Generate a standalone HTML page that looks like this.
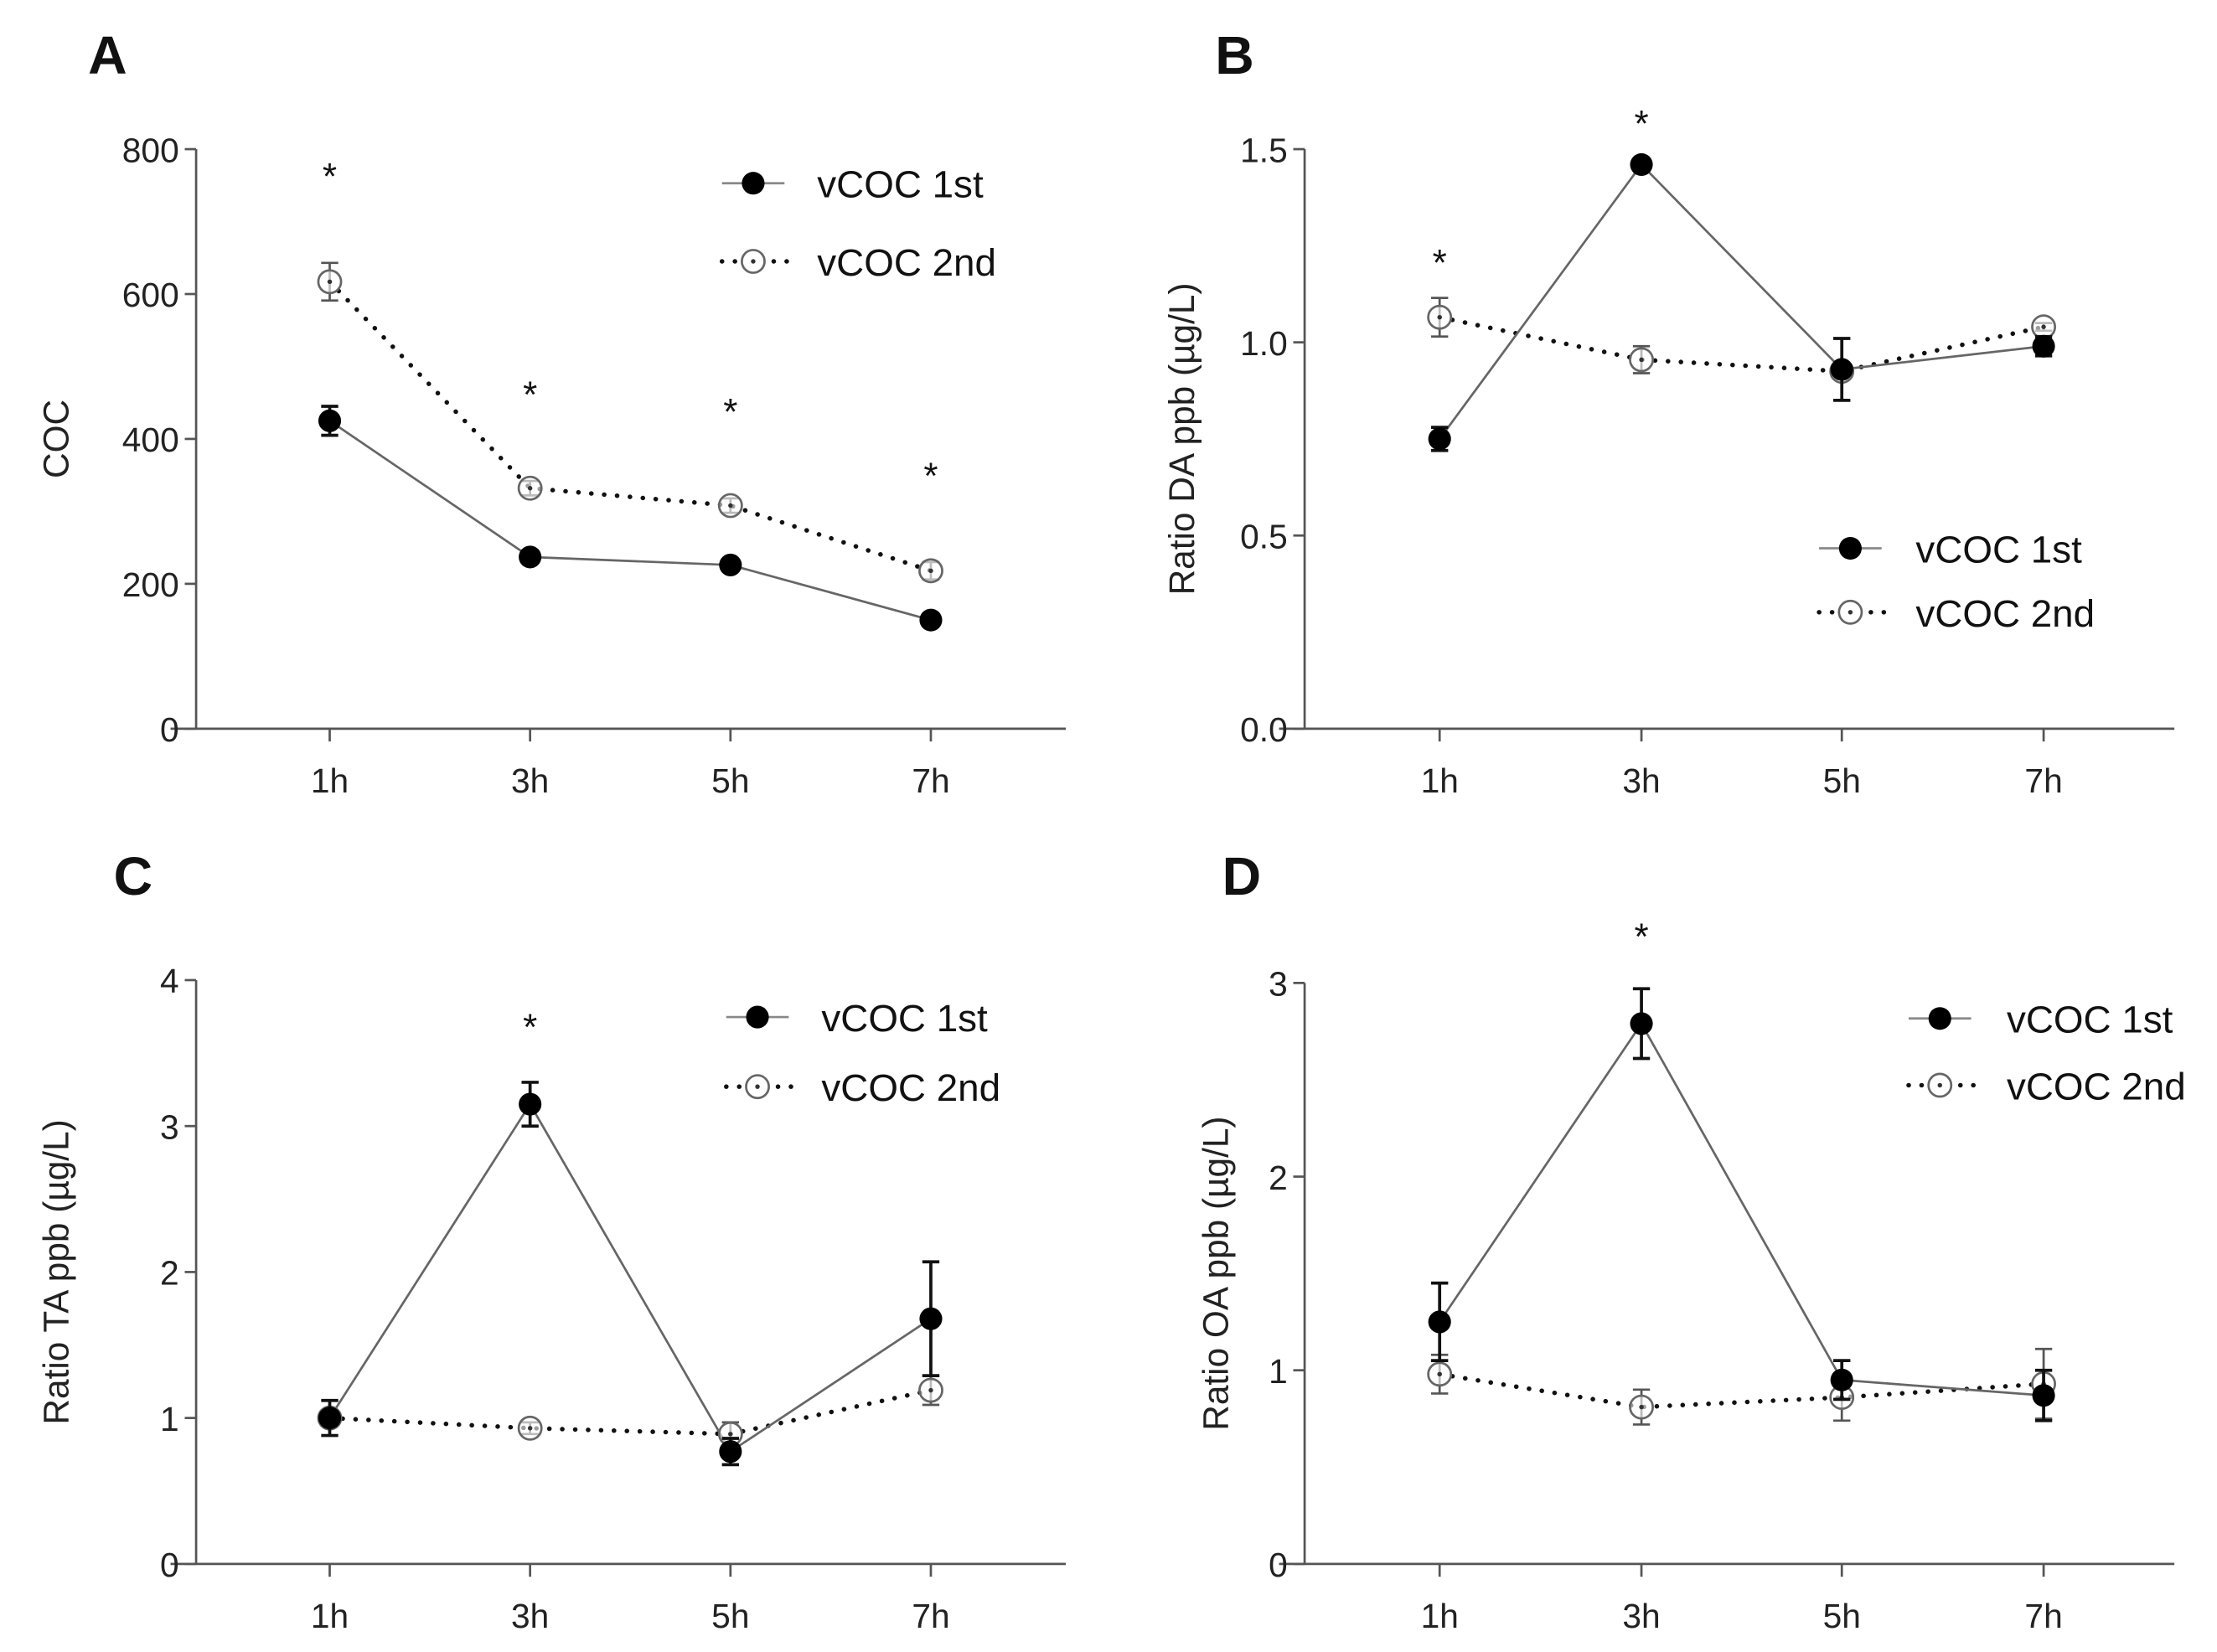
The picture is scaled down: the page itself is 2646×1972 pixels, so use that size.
<!DOCTYPE html>
<html><head><meta charset="utf-8"><style>
html,body{margin:0;padding:0;background:#fff;}
svg{display:block;}
text{font-family:"Liberation Sans",Arial,sans-serif;}
</style></head>
<body>
<svg id="fig" width="2646" height="1972" viewBox="0 0 1560 1163" preserveAspectRatio="none" xmlns="http://www.w3.org/2000/svg"></svg>
<script>
const categories = ["1h","3h","5h","7h"];
const aFirst = [425, 237, 226, 150];
const aFirstErr = [20, 6, 6, 6];
const aSecond = [617, 332, 308, 218];
const aSecondErr = [26, 10, 10, 12];
const aTicks = [0, 200, 400, 600, 800];
const aStars = [true, true, true, true];

const bFirst = [0.75, 1.46, 0.93, 0.99];
const bFirstErr = [0.03, 0.015, 0.08, 0.025];
const bSecond = [1.065, 0.955, 0.925, 1.04];
const bSecondErr = [0.05, 0.035, 0.02, 0.01];
const bTicks = [0, 0.5, 1.0, 1.5];
const bStars = [true, true, false, false];

const cFirst = [1.0, 3.15, 0.77, 1.68];
const cFirstErr = [0.12, 0.15, 0.09, 0.39];
const cSecond = [1.0, 0.93, 0.89, 1.19];
const cSecondErr = [0.04, 0.04, 0.08, 0.1];
const cTicks = [0, 1, 2, 3, 4];
const cStars = [false, true, false, false];

const dFirst = [1.25, 2.79, 0.95, 0.87];
const dFirstErr = [0.2, 0.18, 0.1, 0.13];
const dSecond = [0.98, 0.81, 0.86, 0.93];
const dSecondErr = [0.1, 0.09, 0.12, 0.18];
const dTicks = [0, 1, 2, 3];
const dStars = [false, true, false, false];

const NS = "http://www.w3.org/2000/svg";
const svg = document.getElementById("fig");
function mk(tag, attrs, parent, txt){
  const e = document.createElementNS(NS, tag);
  for (const k in attrs) e.setAttribute(k, attrs[k]);
  if (txt !== undefined) e.textContent = txt;
  (parent || svg).appendChild(e);
  return e;
}

function panel(cfg){
  const g = mk("g", {});
  
  
  const {ax, x0, x1, y0, y1, ymax} = cfg;
  const xs = cfg.xs;
  const yS = v => y0 - (v / ymax) * (y0 - y1);
  const xS = i => xs[i];
  const axc = "#555";
  const pl = mk("text", {x: cfg.lx, y: cfg.ly, "font-size": 38, "font-weight": "bold", fill: "#111"}, g, cfg.letter);
  
  
  const ya = mk("line", {x1: ax, y1: y0, x2: ax, y2: y1, stroke: axc, "stroke-width": 1.6}, g);
  
  
  const xa = mk("line", {x1: x0, y1: y0, x2: x1, y2: y0, stroke: axc, "stroke-width": 1.6}, g);
  
  
  cfg.ticks.forEach(t => {
    const y = yS(t);
    mk("line", {x1: ax - 8, y1: y, x2: ax, y2: y, stroke: axc, "stroke-width": 1.6}, g);
    const tl = mk("text", {x: ax - 12, y: y + 9, "font-size": 24, "text-anchor": "end", fill: "#222"}, g, cfg.fmt(t));
    
    
  });
  categories.forEach((c, i) => {
    mk("line", {x1: xS(i), y1: y0, x2: xS(i), y2: y0 + 9, stroke: axc, "stroke-width": 1.6}, g);
    const tl = mk("text", {x: xS(i), y: y0 + 45, "font-size": 24, "text-anchor": "middle", fill: "#222"}, g, c);
    
    
  });
  const yt = mk("text", {x: 0, y: 0, "font-size": 25, "text-anchor": "middle", fill: "#222",
    transform: `translate(${cfg.ytx},${(y0 + y1) / 2}) rotate(-90)`}, g, cfg.ytitle);
  
  

  const p2 = cfg.s2.map((v, i) => `${xS(i)},${yS(v)}`).join(" ");
  const l2 = mk("polyline", {points: p2, fill: "none", stroke: "#111", "stroke-width": 3.2, "stroke-dasharray": "0.1 9", "stroke-linecap": "round"}, g);
  
  
  const p1 = cfg.s1.map((v, i) => `${xS(i)},${yS(v)}`).join(" ");
  const l1 = mk("polyline", {points: p1, fill: "none", stroke: "#666", "stroke-width": 1.6}, g);
  
  

  function errbar(i, v, e, col, w){
    const x = xS(i);
    const a = mk("path", {d: `M${x},${yS(v - e)}V${yS(v + e)}M${x - 6},${yS(v - e)}h12M${x - 6},${yS(v + e)}h12`, stroke: col, "stroke-width": w, fill: "none"}, g);
    
    
  }
  cfg.s2.forEach((v, i) => {
    errbar(i, v, cfg.e2[i], "#555", 1.6);
    const c = mk("circle", {cx: xS(i), cy: yS(v), r: 8, fill: "#fff", "fill-opacity": 0.6, stroke: "#666", "stroke-width": 1.6}, g);
    
    
    mk("circle", {cx: xS(i), cy: yS(v), r: 1.6, fill: "#333"}, g);
  });
  cfg.s1.forEach((v, i) => {
    errbar(i, v, cfg.e1[i], "#111", 2.2);
    const c = mk("circle", {cx: xS(i), cy: yS(v), r: 8, fill: "#000"}, g);
    
    
  });
  cfg.stars.forEach((s, i) => {
    if (!s) return;
    const top = Math.max(cfg.s1[i] + cfg.e1[i], cfg.s2[i] + cfg.e2[i]);
    const st = mk("text", {x: xS(i), y: yS(top) - cfg.starGap, "font-size": 26, "text-anchor": "middle", fill: "#111"}, g, "*");
    
    
  });
  const lg = mk("g", {}, g);
  
  
  const [mx, my1, my2, tx] = cfg.leg;
  mk("line", {x1: mx - 22, y1: my1, x2: mx + 22, y2: my1, stroke: "#888", "stroke-width": 1.6}, lg);
  mk("circle", {cx: mx, cy: my1, r: 8, fill: "#000"}, lg);
  const t1 = mk("text", {x: tx, y: my1 + 10, "font-size": 27, fill: "#111"}, lg, "vCOC 1st");
  
  
  mk("line", {x1: mx - 22, y1: my2, x2: mx + 24, y2: my2, stroke: "#111", "stroke-width": 3.2, "stroke-dasharray": "0.1 9", "stroke-linecap": "round"}, lg);
  mk("circle", {cx: mx, cy: my2, r: 8, fill: "#fff", stroke: "#666", "stroke-width": 1.6}, lg);
  mk("circle", {cx: mx, cy: my2, r: 1.6, fill: "#333"}, lg);
  const t2 = mk("text", {x: tx, y: my2 + 10, "font-size": 27, fill: "#111"}, lg, "vCOC 2nd");
  
  
}

const xsL = [232, 373, 514, 655];
const xsR = [1013, 1155, 1296, 1438];
panel({letter: "A", lx: 62, ly: 52, ax: 138, x0: 120, x1: 750, y0: 513, y1: 105, ymax: 800, xs: xsL,
  ticks: aTicks, fmt: t => String(t), ytitle: "COC", ytx: 48,
  s1: aFirst, e1: aFirstErr, s2: aSecond, e2: aSecondErr, stars: aStars, starGap: 52,
  leg: [530, 129, 184, 575]});
panel({letter: "B", lx: 855, ly: 52, ax: 918, x0: 900, x1: 1530, y0: 513, y1: 105, ymax: 1.5, xs: xsR,
  ticks: bTicks, fmt: t => t.toFixed(1), ytitle: "Ratio DA ppb (µg/L)", ytx: 840,
  s1: bFirst, e1: bFirstErr, s2: bSecond, e2: bSecondErr, stars: bStars, starGap: 16,
  leg: [1302, 386, 431, 1348]});
panel({letter: "C", lx: 80, ly: 630, ax: 138, x0: 120, x1: 750, y0: 1101, y1: 690, ymax: 4, xs: xsL,
  ticks: cTicks, fmt: t => String(t), ytitle: "Ratio TA ppb (µg/L)", ytx: 48,
  s1: cFirst, e1: cFirstErr, s2: cSecond, e2: cSecondErr, stars: cStars, starGap: 30,
  leg: [533, 716, 765, 578]});
panel({letter: "D", lx: 860, ly: 630, ax: 918, x0: 900, x1: 1530, y0: 1101, y1: 692, ymax: 3, xs: xsR,
  ticks: dTicks, fmt: t => String(t), ytitle: "Ratio OA ppb (µg/L)", ytx: 864,
  s1: dFirst, e1: dFirstErr, s2: dSecond, e2: dSecondErr, stars: dStars, starGap: 28,
  leg: [1365, 717, 764, 1412]});
</script>
</body></html>
